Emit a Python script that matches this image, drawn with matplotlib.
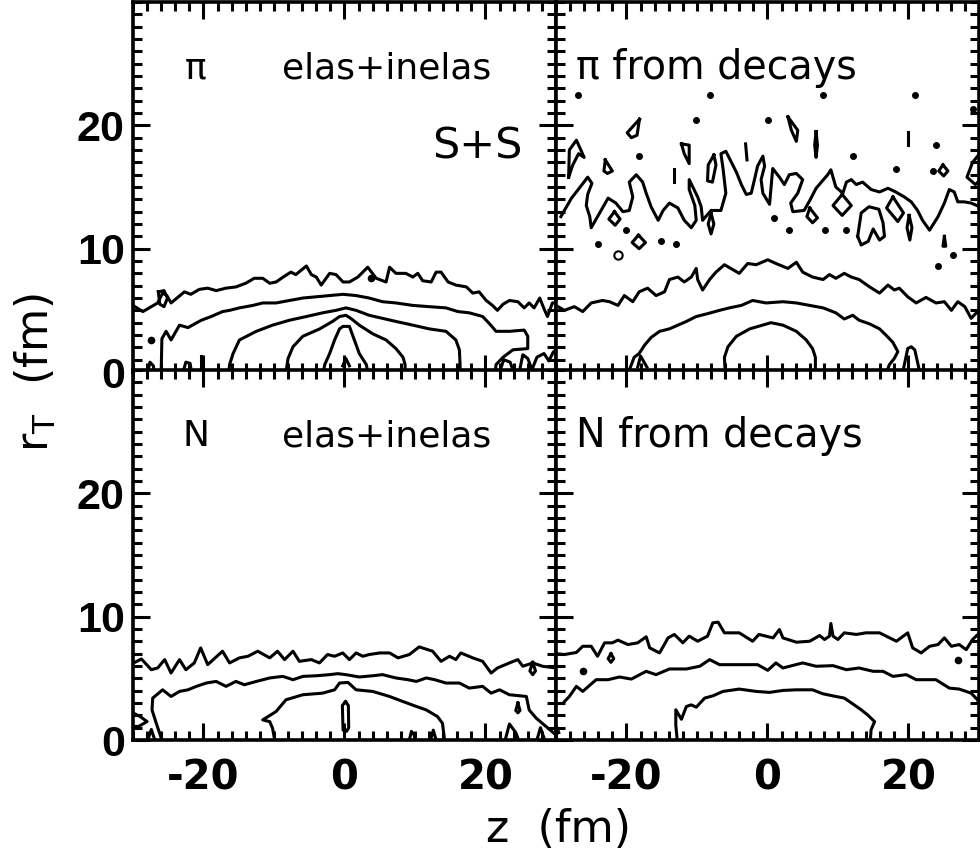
import numpy as np
import matplotlib
matplotlib.use("Agg")
import matplotlib.pyplot as plt
from matplotlib.ticker import MultipleLocator

plt.rcParams['axes.unicode_minus'] = False

# contour lines, (z [fm], r_T [fm])

# --- pi, elastic + inelastic (top left)
pi_el_1 = [(-30.0, 5.4), (-28.6, 4.9), (-26.5, 5.6), (-25.8, 6.4), (-25.2, 6.2), (-24.6, 5.6), (-22.7, 6.5),
           (-21.8, 6.3), (-20.6, 6.7), (-19.4, 6.8), (-18.2, 6.6), (-16.8, 6.8), (-15.4, 6.9), (-14.0, 7.2),
           (-12.8, 7.6), (-11.6, 7.6), (-10.6, 7.2), (-9.7, 7.3), (-8.7, 7.7), (-7.6, 8.1), (-6.9, 7.9),
           (-5.4, 8.6), (-4.7, 7.9), (-4.0, 7.7), (-3.3, 7.05), (-2.1, 8.0), (-1.2, 7.9), (-0.2, 7.3),
           (0.7, 7.3), (1.9, 7.7), (3.3, 8.5), (4.5, 7.6), (5.9, 7.3), (6.4, 8.5), (7.3, 8.0), (8.7, 8.0),
           (9.7, 7.7), (10.4, 8.0), (11.1, 7.4), (12.3, 7.3), (13.0, 8.1), (13.7, 8.1), (14.7, 7.3),
           (15.8, 7.05), (17.3, 6.9), (18.2, 6.4), (19.1, 6.5), (20.1, 5.8), (21.0, 5.4), (21.7, 5.0),
           (22.5, 5.5), (23.4, 5.8), (24.6, 5.7), (25.5, 5.2), (26.2, 5.6), (26.9, 5.2), (27.7, 6.0),
           (28.4, 5.0), (28.8, 4.5), (29.5, 5.6), (30.0, 5.6)]
pi_el_2 = [(-26.0, 0.0), (-25.9, 2.7), (-25.3, 3.3), (-24.6, 2.6), (-23.4, 3.8), (-22.2, 3.6), (-20.3, 4.2),
           (-18.9, 4.5), (-17.3, 4.9), (-16.3, 5.0), (-14.9, 5.2), (-13.0, 5.4), (-11.6, 5.6), (-9.7, 5.6),
           (-7.8, 5.8), (-5.9, 6.0), (-4.0, 6.1), (-2.1, 6.2), (-0.2, 6.3), (1.65, 6.2), (3.5, 6.0),
           (5.4, 5.7), (7.3, 5.6), (9.7, 5.4), (12.0, 5.3), (14.4, 5.2), (16.1, 4.9), (17.7, 4.8),
           (19.6, 4.5), (20.6, 3.9), (21.5, 3.3), (23.4, 3.3), (25.5, 3.4), (26.0, 2.9), (26.0, 1.9),
           (23.9, 1.8), (22.5, 1.2), (21.5, 0.6), (21.4, 0.0)]
pi_el_3 = [(-16.4, 0.0), (-16.3, 0.6), (-15.8, 1.5), (-14.9, 2.6), (-12.5, 3.3), (-10.2, 3.8), (-7.8, 4.2),
           (-5.4, 4.5), (-3.1, 4.8), (-1.2, 5.0), (0.2, 5.2), (1.65, 5.0), (3.5, 4.6), (5.4, 4.35),
           (7.3, 4.1), (9.7, 3.8), (12.0, 3.5), (14.4, 3.3), (15.8, 2.6), (16.3, 1.8), (16.4, 0.6), (16.4, 0.0)]
pi_el_4 = [(-8.3, 0.0), (-8.0, 1.1), (-7.3, 2.05), (-5.9, 2.9), (-3.5, 3.5), (-1.7, 4.1), (-0.7, 4.5),
           (0.2, 4.6), (0.9, 4.35), (2.1, 3.8), (4.0, 3.1), (5.9, 2.6), (7.3, 1.9), (8.3, 1.2), (8.6, 0.6),
           (8.6, 0.0)]
pi_el_5 = [(-3.0, 0.0), (-2.8, 0.6), (-2.1, 1.5), (-1.4, 2.6), (-0.7, 3.5), (-0.2, 3.7), (0.7, 3.7),
           (1.4, 2.6), (2.1, 1.5), (3.1, 0.6), (3.3, 0.0)]
pi_el_small = [
    [(-0.25, 0.5), (0.2, 1.1), (0.7, 0.5)],
    [(-26.4, 6.5), (-25.6, 6.6), (-25.1, 6.0), (-25.6, 5.3), (-26.2, 5.5), (-26.4, 6.5)],
    [(-27.9, 0.0), (-27.6, 0.8), (-27.1, 0.5), (-27.0, 0.0)],
    [(-22.9, 0.0), (-22.5, 0.8), (-21.9, 0.7), (-21.7, 0.0)],
    [(-20.3, 1.3), (-20.3, 0.0)],
    [(22.0, 0.0), (22.6, 1.0), (23.5, 0.8), (24.0, 0.0)],
    [(24.8, 0.0), (25.3, 1.4), (26.0, 1.1), (26.6, 0.2), (27.3, 1.2), (28.3, 1.5), (29.0, 0.9),
     (29.6, 1.6), (30.0, 1.8)],
]
pi_el_dots = [(3.8, 7.6), (-27.4, 2.6)]

# --- pi from decays (top right)
pi_dec_2 = [(-30.5, 4.6), (-30.0, 5.4), (-28.8, 5.0), (-27.4, 5.3), (-26.2, 4.9), (-25.0, 5.6), (-23.4, 5.8),
            (-22.4, 5.7), (-21.2, 5.4), (-20.3, 6.2), (-19.1, 5.7), (-18.2, 6.5), (-17.0, 6.8), (-15.8, 6.2),
            (-14.6, 6.5), (-13.9, 7.5), (-12.7, 7.7), (-11.8, 7.3), (-10.8, 7.7), (-10.1, 8.4), (-9.9, 7.5),
            (-9.2, 6.65), (-8.2, 7.5), (-7.3, 8.1), (-6.1, 8.7), (-5.2, 8.4), (-4.0, 8.0), (-2.8, 8.8),
            (-1.6, 8.7), (0.05, 9.1), (1.2, 8.8), (2.9, 8.4), (4.1, 8.9), (5.0, 8.1), (6.4, 7.7), (7.9, 7.5),
            (8.8, 7.9), (9.7, 7.6), (10.9, 8.0), (11.9, 7.7), (13.0, 7.5), (14.5, 6.9), (15.9, 6.4),
            (17.1, 7.05), (18.0, 6.65), (18.7, 6.8), (19.9, 6.1), (21.1, 5.6), (22.5, 6.05), (23.9, 5.6),
            (25.1, 5.7), (26.1, 5.0), (27.0, 5.7), (28.0, 5.3), (28.9, 4.35), (29.8, 4.9), (30.5, 4.8)]
pi_dec_3 = [(-19.7, 0.0), (-18.9, 1.2), (-18.2, 1.5), (-17.4, 2.2), (-16.5, 2.8), (-15.3, 3.3), (-13.9, 3.5),
            (-12.7, 3.8), (-11.5, 4.1), (-10.1, 4.5), (-8.7, 4.7), (-6.8, 5.0), (-5.4, 5.2), (-3.7, 5.4),
            (-2.1, 5.8), (-0.2, 5.6), (2.2, 5.7), (4.1, 5.6), (6.0, 5.4), (7.9, 5.2), (9.7, 4.8),
            (10.9, 4.3), (12.1, 4.6), (13.0, 4.2), (14.5, 3.9), (15.9, 3.5), (16.8, 3.0), (17.8, 2.4),
            (18.5, 1.65), (18.0, 1.1), (17.3, 0.6), (16.9, 0.0)]
pi_dec_4 = [(-6.0, 0.0), (-6.1, 1.2), (-5.6, 2.05), (-4.4, 2.9), (-2.5, 3.5), (-0.7, 3.8), (0.5, 4.0),
            (2.2, 3.8), (4.1, 3.3), (5.5, 2.6), (6.4, 1.9), (6.8, 1.2), (6.8, 0.0)]
pi_dec_band = [(-29.3, 12.6), (-27.8, 14.1), (-26.7, 14.9), (-25.5, 15.8), (-24.9, 15.3), (-25.5, 14.4),
               (-25.7, 13.5), (-25.2, 12.6), (-25.0, 11.7), (-24.1, 12.6), (-22.6, 14.1), (-21.5, 13.7),
               (-20.5, 13.0), (-19.6, 13.1), (-19.1, 14.2), (-19.6, 15.4), (-18.6, 16.0), (-17.7, 15.4),
               (-17.2, 14.5), (-16.5, 13.4), (-15.5, 12.3), (-14.8, 13.1), (-13.9, 13.7), (-12.7, 13.3),
               (-11.8, 12.3), (-10.8, 11.7), (-10.1, 12.3), (-10.3, 13.5), (-11.1, 14.8), (-11.1, 15.6),
               (-9.9, 14.2), (-9.4, 13.4), (-9.2, 12.3), (-8.0, 13.1), (-6.6, 13.1), (-5.9, 14.5),
               (-6.3, 16.5), (-6.6, 17.7), (-5.9, 17.9), (-4.4, 16.2), (-3.7, 15.2), (-3.0, 14.4),
               (-2.3, 14.5), (-1.8, 15.7), (-1.4, 16.7), (-0.65, 17.5), (-0.4, 16.7), (-0.9, 15.6),
               (-0.65, 14.5), (0.3, 13.6), (0.75, 16.5), (1.7, 15.8), (2.4, 15.2), (3.1, 16.0), (4.1, 16.1),
               (5.0, 15.6), (4.3, 14.5), (3.3, 13.7), (3.6, 13.0), (5.2, 13.1), (6.0, 13.9), (6.9, 14.9),
               (8.55, 16.0), (9.0, 16.4), (9.7, 15.0), (10.7, 14.5), (11.2, 15.4), (11.9, 15.6),
               (12.6, 15.2), (13.5, 15.4), (14.7, 14.8), (15.9, 14.6), (17.1, 14.9), (18.2, 14.6),
               (19.4, 14.2), (20.4, 13.8), (21.3, 13.1), (22.0, 12.3), (23.0, 11.5), (24.2, 12.6),
               (25.1, 13.7), (25.8, 14.8), (26.5, 14.6), (27.0, 13.8), (27.9, 13.8), (28.9, 13.7),
               (30.1, 13.4)]
pi_dec_small = [
    [(19.2, 0.0), (19.9, 1.9), (20.4, 2.05), (20.9, 1.8), (21.6, 0.0)],
    [(-18.4, 0.4), (-18.0, 1.3), (-17.1, 0.4)],
    [(-18.15, 20.5), (-18.5, 19.2), (-19.3, 19.0), (-19.9, 19.4), (-18.15, 20.5)],
    [(-23.0, 17.2), (-22.0, 16.3), (-22.7, 16.1), (-23.2, 16.3), (-23.0, 17.2)],
    [(-28.2, 15.8), (-28.1, 18.0), (-27.1, 18.8), (-26.0, 17.4), (-26.8, 17.7), (-27.6, 16.8), (-28.2, 15.8)],
    [(-12.2, 18.5), (-11.1, 18.4), (-11.1, 16.9), (-11.8, 17.7), (-12.2, 18.5)],
    [(-7.6, 17.6), (-7.3, 16.8), (-7.8, 15.4), (-8.5, 15.5), (-8.4, 16.8), (-7.6, 17.6)],
    [(-3.1, 18.5), (-2.9, 17.2)],
    [(-13.2, 16.5), (-13.2, 15.4)],
    [(2.9, 20.7), (4.3, 19.6), (4.1, 18.7), (3.4, 19.6), (2.9, 20.7)],
    [(6.9, 19.5), (7.1, 18.4), (6.9, 17.4), (6.7, 18.4), (6.9, 19.5)],
    [(20.0, 19.5), (20.0, 18.4)],
    [(-18.3, 11.1), (-17.3, 10.5), (-18.2, 10.0), (-19.2, 10.5), (-18.3, 11.1)],
    [(-21.7, 13.0), (-20.9, 12.4), (-21.6, 11.9), (-22.5, 12.4), (-21.7, 13.0)],
    [(10.6, 14.4), (11.9, 13.5), (10.6, 12.7), (9.3, 13.5), (10.6, 14.4)],
    [(17.8, 14.2), (19.3, 12.9), (18.5, 12.2), (16.9, 13.3), (17.8, 14.2)],
    [(6.0, 13.3), (7.1, 12.5), (6.4, 12.1), (5.6, 12.6), (6.0, 13.3)],
    [(20.1, 12.7), (20.5, 11.7), (20.2, 10.7), (19.8, 11.7), (20.1, 12.7)],
    [(24.9, 16.8), (25.6, 16.3), (25.0, 15.9), (24.3, 16.3), (24.9, 16.8)],
    [(30.5, 18.0), (29.1, 17.0), (28.3, 15.8), (29.5, 15.2), (30.5, 15.8)],
    [(-8.0, 12.9), (-7.6, 12.0), (-8.0, 11.2), (-8.4, 12.0), (-8.0, 12.9)],
    [(12.8, 11.0), (13.3, 12.9), (14.4, 13.4), (15.8, 13.2), (16.4, 12.1), (16.6, 11.0), (15.9, 10.7),
     (15.0, 11.6), (14.3, 10.6), (13.3, 10.3), (12.8, 11.0)],
    [(25.1, 11.0), (25.3, 10.2), (24.9, 10.2), (25.1, 11.0)],
]
pi_dec_dots = [(-26.9, 22.5), (-8.1, 22.5), (7.85, 22.5), (20.9, 22.5), (-10.1, 20.4), (0.05, 20.4),
               (-18.2, 17.5), (18.3, 16.5), (23.9, 18.4), (-24.1, 10.4), (-20.0, 11.5), (1.0, 12.5),
               (3.0, 11.5), (8.1, 11.5), (11.1, 11.5), (24.2, 8.6), (26.3, 9.5), (12.1, 17.5), (23.5, 16.3),
               (-15.1, 10.6), (-13.0, 10.4), (29.1, 21.3)]
pi_dec_rings = [(-21.2, 9.5)]

# --- N, elastic + inelastic (bottom left)
n_el_1 = [(-29.9, 6.25), (-28.8, 6.57), (-27.4, 5.7), (-26.5, 5.84), (-25.5, 6.52), (-24.6, 5.43),
          (-23.4, 6.52), (-22.5, 5.7), (-21.3, 6.25), (-20.4, 7.47), (-19.4, 6.11), (-17.3, 7.2),
          (-16.3, 6.25), (-14.9, 6.66), (-13.7, 6.79), (-12.3, 7.2), (-10.6, 6.66), (-9.5, 7.2),
          (-8.5, 6.52), (-7.3, 7.2), (-6.4, 6.38), (-4.7, 6.52), (-3.55, 6.25), (-2.4, 6.93),
          (-1.4, 6.79), (-0.24, 7.06), (0.7, 6.52), (1.65, 7.06), (2.6, 6.79), (3.5, 6.93), (5.0, 7.06),
          (6.4, 7.06), (7.6, 6.66), (9.2, 6.93), (10.6, 7.55), (12.5, 7.2), (13.7, 6.38), (14.9, 6.79),
          (15.8, 6.52), (16.5, 7.06), (18.2, 6.66), (19.6, 6.38), (20.8, 5.43), (21.7, 5.84),
          (23.4, 6.25), (24.6, 6.52), (25.3, 5.98), (26.7, 6.25), (28.1, 5.98), (30.0, 5.84)]
n_el_2 = [(-25.9, 0.0), (-26.7, 1.36), (-27.3, 2.44), (-27.2, 3.4), (-25.8, 4.07), (-24.6, 3.53),
          (-23.4, 3.94), (-22.2, 4.07), (-21.0, 4.35), (-19.6, 4.62), (-18.2, 4.75), (-16.8, 4.35),
          (-15.4, 4.75), (-14.2, 4.48), (-12.5, 4.75), (-10.6, 5.03), (-8.75, 5.16), (-7.3, 4.89),
          (-5.9, 5.16), (-4.0, 5.21), (-2.1, 5.3), (-0.95, 5.38), (0.2, 5.3), (2.1, 5.11), (4.0, 5.21),
          (5.4, 5.3), (7.3, 5.03), (9.0, 4.89), (10.2, 4.75), (11.6, 5.03), (12.8, 4.89), (14.4, 4.62),
          (16.3, 4.62), (17.7, 4.21), (19.6, 4.35), (20.8, 3.8), (22.0, 4.07), (23.4, 3.67),
          (25.8, 3.53), (26.2, 2.44), (27.2, 1.77), (28.6, 1.09), (30.0, 0.41)]
n_el_3 = [(-9.9, 0.0), (-10.2, 0.95), (-10.6, 1.49), (-11.6, 1.63), (-9.7, 2.31), (-8.3, 3.26),
          (-5.9, 3.67), (-3.1, 3.8), (-1.4, 4.07), (-0.7, 4.62), (0.5, 4.67), (1.65, 4.07), (4.0, 3.94),
          (6.4, 3.53), (8.3, 3.12), (10.2, 2.72), (11.6, 2.44), (13.2, 1.9), (13.9, 1.36), (14.2, 0.0)]
n_el_small = [
    [(0.15, 3.1), (0.55, 2.8), (0.6, 1.0), (0.3, 0.7), (-0.2, 0.8), (-0.3, 2.8), (0.15, 3.1)],
    [(24.6, 3.0), (24.9, 2.4), (24.6, 2.2), (24.3, 2.4), (24.6, 3.0)],
    [(26.7, 6.3), (27.1, 5.6), (26.7, 5.3), (26.3, 5.6), (26.7, 6.3)],
    [(-30.0, 2.2), (-29.0, 1.9), (-28.0, 1.5), (-29.2, 1.1), (-30.0, 1.1)],
    [(-27.9, 0.0), (-27.4, 0.85), (-26.9, 0.0)],
    [(9.2, 0.0), (9.5, 0.7), (9.9, 0.4), (10.0, 0.0)],
    [(12.2, 0.0), (12.6, 0.8), (13.0, 0.0)],
    [(22.8, 0.0), (23.4, 1.3), (24.3, 0.6), (24.7, 0.0)],
    [(27.3, 0.0), (27.8, 1.0), (28.4, 0.0)],
]

# --- N from decays (bottom right)
n_dec_1 = [(-30.0, 7.0), (-28.8, 6.93), (-27.1, 7.1), (-26.2, 7.6), (-25.0, 7.6), (-24.1, 6.79), (-23.1, 7.88),
           (-22.0, 7.88), (-21.2, 8.1), (-19.8, 7.74), (-18.4, 7.88), (-17.2, 8.37), (-16.7, 7.47),
           (-15.3, 7.06), (-14.1, 8.28), (-13.2, 8.56), (-12.0, 7.88), (-11.1, 8.42), (-9.9, 8.01),
           (-8.5, 8.42), (-7.75, 9.5), (-7.0, 9.56), (-6.1, 8.69), (-4.0, 8.69), (-2.1, 8.01), (-1.2, 8.56),
           (0.8, 8.28), (1.7, 8.96), (2.2, 8.28), (4.1, 7.93), (6.0, 8.01), (7.4, 8.47), (8.1, 8.15),
           (8.8, 8.42), (9.0, 9.45), (9.3, 8.42), (10.0, 8.15), (10.9, 8.69), (12.6, 8.56), (14.0, 8.69),
           (15.9, 8.69), (18.3, 8.01), (19.9, 8.69), (20.6, 7.47), (21.8, 7.06), (23.0, 7.6), (24.2, 7.74),
           (25.1, 8.28), (26.1, 7.6), (27.2, 7.74), (28.2, 7.33), (29.1, 8.15), (30.1, 8.69)]
n_dec_2 = [(-29.0, 2.99), (-28.1, 3.53), (-27.1, 4.35), (-26.2, 3.94), (-24.3, 4.89), (-22.6, 4.89),
           (-21.0, 5.11), (-19.3, 4.94), (-17.2, 5.57), (-15.8, 5.3), (-13.9, 5.76), (-11.5, 5.76),
           (-9.6, 5.98), (-8.2, 6.52), (-6.8, 6.11), (-4.4, 6.11), (-2.5, 6.11), (-1.4, 6.11), (0.05, 5.65),
           (1.2, 6.25), (2.2, 5.84), (5.0, 6.25), (6.9, 5.98), (9.3, 6.03), (11.2, 5.7), (13.0, 5.84),
           (15.0, 5.57), (16.4, 5.57), (17.8, 5.16), (19.7, 5.3), (21.1, 4.89), (23.9, 4.89), (25.8, 4.21),
           (27.2, 4.13), (28.9, 3.8), (29.8, 3.26), (30.2, 2.6)]
n_dec_3 = [(-12.8, 0.0), (-13.0, 1.22), (-13.0, 2.45), (-12.2, 1.68), (-11.5, 2.72), (-10.8, 2.85),
           (-10.1, 2.66), (-8.9, 3.4), (-7.75, 3.58), (-6.3, 3.94), (-4.0, 4.13), (-1.6, 3.94), (0.3, 3.86),
           (2.2, 4.02), (4.1, 4.07), (6.4, 4.07), (7.85, 3.75), (9.7, 3.53), (10.9, 3.4), (12.1, 2.93),
           (13.3, 2.45), (14.2, 2.04), (15.2, 1.49), (14.7, 0.82), (14.6, 0.0)]
n_dec_small = [
    [(-22.2, 7.0), (-21.8, 6.6), (-22.2, 6.3), (-22.6, 6.6), (-22.2, 7.0)],
    [(-30.0, 1.2), (-29.6, 0.6)],
]
n_dec_dots = [(27.0, 6.5), (-26.2, 5.6)]

tick_vals = [-20, 0, 20]
rtick_vals = [0, 10, 20]

fig = plt.figure(figsize=(9.8, 8.55), dpi=100)
pw, ph = 0.4316, 0.4327
x0, yb, ym = 0.1357, 0.1345, 0.5649
ax_tl = fig.add_axes([x0, ym, pw, ph])
ax_tr = fig.add_axes([x0 + pw, ym, pw, ph])
ax_bl = fig.add_axes([x0, yb, pw, ph])
ax_br = fig.add_axes([x0 + pw, yb, pw, ph])

lw = 2.2


def draw(ax, pts):
    a = np.array(pts)
    ax.plot(a[:, 0], a[:, 1], color='k', lw=lw, solid_joinstyle='round')


def dots(ax, pts, ms=4, fill=True):
    a = np.array(pts)
    ax.plot(a[:, 0], a[:, 1], 'o', color='k', ms=ms, mew=1.5,
            mfc='k' if fill else 'white', ls='none')


for line in [pi_el_1, pi_el_2, pi_el_3, pi_el_4, pi_el_5] + pi_el_small:
    draw(ax_tl, line)
dots(ax_tl, pi_el_dots)

for line in [pi_dec_2, pi_dec_3, pi_dec_4, pi_dec_band] + pi_dec_small:
    draw(ax_tr, line)
dots(ax_tr, pi_dec_dots, ms=3.5)
dots(ax_tr, pi_dec_rings, ms=6, fill=False)

for line in [n_el_1, n_el_2, n_el_3] + n_el_small:
    draw(ax_bl, line)

for line in [n_dec_1, n_dec_2, n_dec_3] + n_dec_small:
    draw(ax_br, line)
dots(ax_br, n_dec_dots)

txt = dict(fontsize=26, family='DejaVu Sans', va='center')
txt_r = dict(fontsize=28.5, family='DejaVu Sans', va='center')
ax_tl.text(-21.1, 24.65, 'π', ha='center', **txt)
ax_tl.text(-8.8, 24.65, 'elas+inelas', ha='left', **txt)
ax_tl.text(12.5, 18.25, 'S+S', ha='left', fontsize=31, family='DejaVu Sans', va='center')
ax_tr.text(-27.1, 24.65, 'π from decays', ha='left', **txt_r)
ax_bl.text(-23.0, 24.65, 'N', ha='left', **txt)
ax_bl.text(-8.8, 24.65, 'elas+inelas', ha='left', **txt)
ax_br.text(-27.1, 24.65, 'N from decays', ha='left', **txt_r)

for ax in [ax_tl, ax_tr, ax_bl, ax_br]:
    ax.set_xlim(-30, 30)
    ax.set_ylim(0, 30)
    ax.set_xticks(tick_vals)
    ax.set_yticks(rtick_vals)
    ax.xaxis.set_minor_locator(MultipleLocator(2))
    ax.yaxis.set_minor_locator(MultipleLocator(1))
    ax.tick_params(which='both', direction='in', top=True, right=True, width=2.2, color='k')
    ax.tick_params(which='major', length=12)
    ax.tick_params(which='minor', length=6.5)
    ax.tick_params(axis='y', labelsize=31, pad=6)
    ax.tick_params(axis='x', labelsize=29, pad=13)
    for s in ax.spines.values():
        s.set_linewidth(2.6)
    for lbl in ax.get_yticklabels():
        lbl.set_fontweight('bold')
        lbl.set_family('Liberation Sans')
    for lbl in ax.get_xticklabels():
        lbl.set_fontweight('bold')
        lbl.set_family('DejaVu Sans')

for ax in [ax_tl, ax_tr]:
    ax.tick_params(labelbottom=False)
for ax in [ax_tr, ax_br]:
    ax.tick_params(labelleft=False)

fig.text(0.570, 1 - 829 / 855, 'z  (fm)', ha='center', va='center', fontsize=32, family='DejaVu Sans')
fig.text(0.036, 1 - 372 / 855, r'r$_\mathrm{T}$  (fm)', ha='center', va='center', rotation=90,
         fontsize=32, family='DejaVu Sans')

fig.savefig('out.png', dpi=100)
